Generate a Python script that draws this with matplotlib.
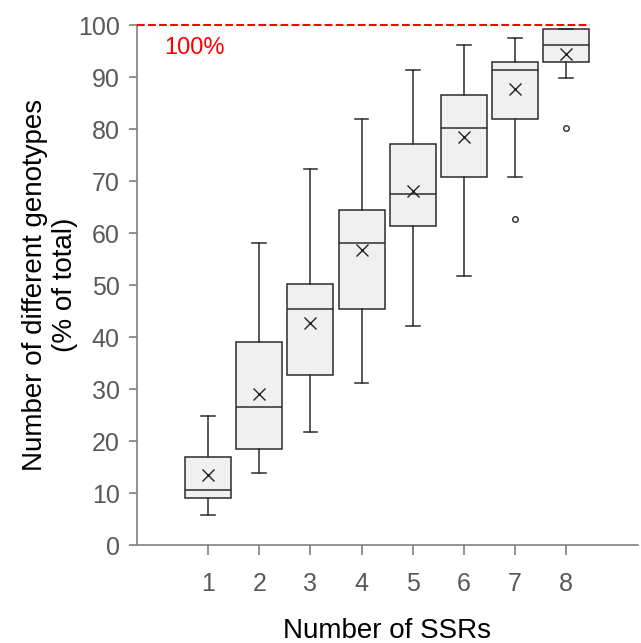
import matplotlib.pyplot as plt

plt.rcParams['font.family'] = ['Liberation Sans', 'DejaVu Sans']

# box statistics (% of total)
n_ssrs = [1, 2, 3, 4, 5, 6, 7, 8]
whislo = [5.9, 13.8, 21.7, 31.2, 42.2, 51.7, 70.8, 89.8]
q1 = [9.1, 18.5, 32.8, 45.4, 61.3, 70.8, 81.9, 92.9]
med = [10.7, 26.5, 45.4, 58.1, 67.6, 80.3, 91.3, 96.2]
q3 = [17.0, 39.1, 50.2, 64.4, 77.1, 86.5, 92.9, 99.2]
whishi = [24.9, 58.1, 72.3, 81.9, 91.3, 96.2, 97.6, 99.2]
means = [13.6, 29.0, 42.8, 56.7, 68.1, 78.5, 87.7, 94.4]
fliers = [[], [], [], [], [], [], [62.8], [80.3]]

stats = []
for i in range(len(n_ssrs)):
    stats.append(dict(whislo=whislo[i], q1=q1[i], med=med[i], q3=q3[i],
                      whishi=whishi[i], mean=means[i], fliers=fliers[i]))

fig = plt.figure(figsize=(6.41, 6.43), dpi=100)
ax = fig.add_axes([0.213, 0.152, 0.782, 0.809])

edge = '#2b2b2b'
ax.bxp(stats, positions=n_ssrs, widths=0.9, patch_artist=True,
       showmeans=True, showfliers=True,
       boxprops=dict(facecolor='#f0f0f0', edgecolor=edge, linewidth=1.1),
       medianprops=dict(color=edge, linewidth=1.1),
       whiskerprops=dict(color=edge, linewidth=1.1),
       capprops=dict(color=edge, linewidth=1.1),
       capwidths=0.27,
       meanprops=dict(marker='x', markeredgecolor='#222222', markersize=8.5,
                      markeredgewidth=1.0),
       flierprops=dict(marker='o', markerfacecolor='none',
                       markeredgecolor=edge, markersize=4, markeredgewidth=1.0))

# 100% reference line
ax.plot([-0.4, 8.46], [100, 100], color='red', linestyle='--', linewidth=1.5,
        clip_on=False, zorder=5)
ax.text(0.15, 95.5, '100%', color='red', fontsize=17, va='center', ha='left')

ax.set_xlim(-0.4, 9.4)
ax.set_ylim(0, 100)
ax.set_yticks(range(0, 101, 10))
ax.set_xticks(n_ssrs)
ax.set_xticklabels([str(n) for n in n_ssrs])

for side in ['top', 'right']:
    ax.spines[side].set_visible(False)
for side in ['left', 'bottom']:
    ax.spines[side].set_color('#808080')
    ax.spines[side].set_linewidth(1.2)

ax.tick_params(axis='both', colors='#808080', labelcolor='#595959',
               labelsize=18, width=1.2)
ax.tick_params(axis='x', length=7, pad=12)
ax.tick_params(axis='y', length=6, pad=6)

ax.set_xlabel('Number of SSRs', fontsize=20, labelpad=16, color='black')
ax.set_ylabel('Number of different genotypes\n(% of total)', fontsize=20,
              labelpad=0, color='black')

fig.savefig('out.png', dpi=100)
